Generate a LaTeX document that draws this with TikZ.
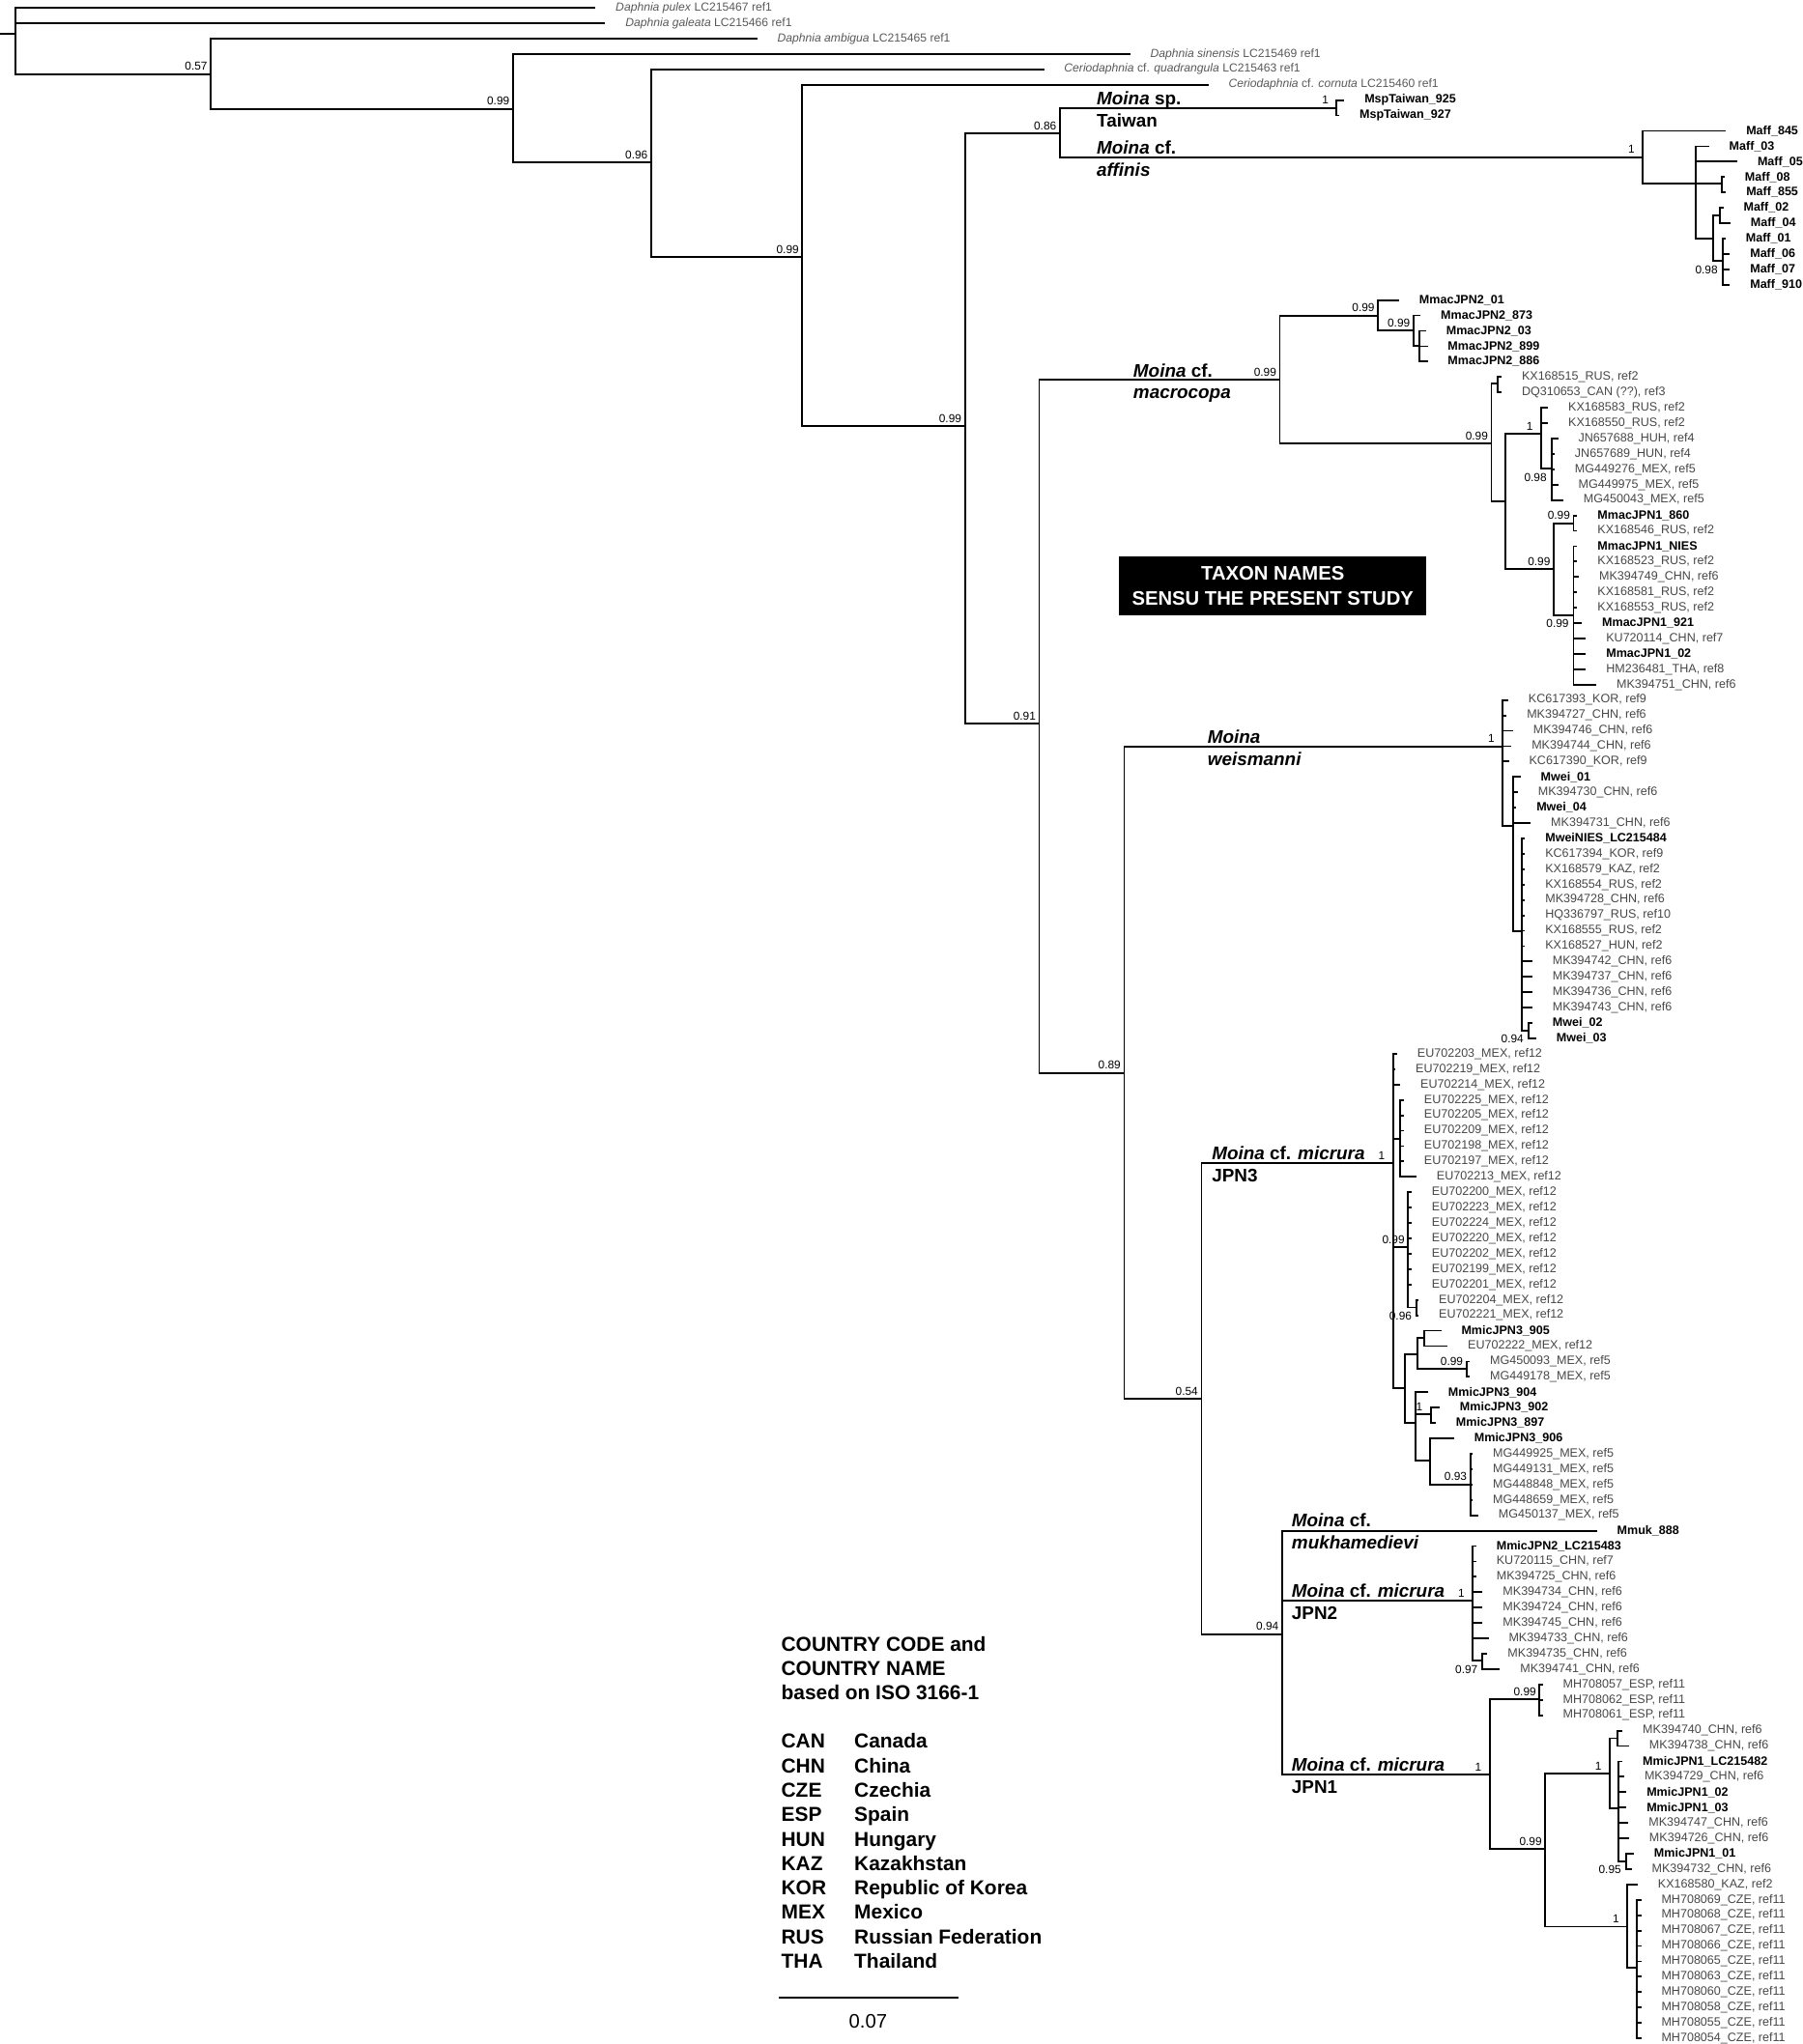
\documentclass[tikz,border=0pt]{standalone}
\usepackage{fontspec}
\setmainfont{Liberation Sans}
\usepackage{tikz}
\usetikzlibrary{positioning}
\tikzstyle{br} = [line width=1.35pt, line cap=rect]
\tikzstyle{outg} = [font=\fontsize{9}{11}\selectfont, text=black!65, inner sep=0pt, anchor=west]
\tikzstyle{ref} = [font=\fontsize{9.3}{11}\selectfont, text=black!72, inner sep=0pt, anchor=west]
\tikzstyle{own} = [font=\fontsize{9.3}{11}\selectfont\bfseries, inner sep=0pt, anchor=west]
\tikzstyle{pp} = [font=\fontsize{8.8}{10}\selectfont, inner sep=2.5pt, anchor=south east]
\tikzstyle{pp1} = [pp, xshift=-3.5pt]
\tikzstyle{ppb} = [font=\fontsize{8.8}{10}\selectfont, inner sep=3.5pt, anchor=north east]
\tikzstyle{clade} = [font=\fontsize{14}{16}\selectfont\bfseries, inner sep=0pt, anchor=base west]
\tikzstyle{legend} = [font=\fontsize{15.5}{18}\selectfont\bfseries, inner sep=0pt, anchor=base west]

\newcommand{\leaf}[5]{%
  \coordinate (#1) at (#3,{6+11.8*#2});
  \node[#4] (#1t) at ([xshift=16pt]#1) {#5};}
\newcommand{\kids}[2]{\foreach \kid in {#2} {\draw[br] (#1) |- (\kid);}}
\newcommand{\rows}[3]{\foreach \ri in {#2,...,#3} {\draw[br] (#1) |- (r\ri);}}

\begin{document}
\begin{tikzpicture}[x=1pt,y=-1pt]
\useasboundingbox (0,0) rectangle (1382,1568);
\coordinate (base) at (0,25.9);
\coordinate (root) at (12.1,25.9);
\coordinate (n057) at (161.7,56.8);
\coordinate (n099a) at (393.4,83.5);
\coordinate (n096) at (499.4,124.7);
\coordinate (n099b) at (615.3,197);
\coordinate (n099c) at (740,327);
\coordinate (n086) at (812.8,102.5);
\coordinate (nMsp) at (1025,82.7);
\coordinate (nMaff) at (1259.7,120.5);
\coordinate (nMA) at (1300.5,140.8);
\coordinate (nM08) at (1320.3,140.8);
\coordinate (nMB) at (1314.1,182.8);
\coordinate (nM02) at (1319,165.5);
\coordinate (nM098) at (1321,200.1);
\coordinate (n091) at (797,555);
\coordinate (nMmac) at (981.5,291.5);
\coordinate (nJ2a) at (1056.8,242.1);
\coordinate (nJ2b) at (1084,253.7);
\coordinate (nJ2c) at (1088.8,265);
\coordinate (nMm1) at (1143.8,340.1);
\coordinate (nMm1a) at (1148.7,294);
\coordinate (nMm1b) at (1154.5,384.8);
\coordinate (n1c) at (1181.8,332.5);
\coordinate (n098) at (1189.8,359.2);
\coordinate (n099d) at (1191.6,436.7);
\coordinate (n099e) at (1206.8,401.4);
\coordinate (n099f) at (1206.8,471.8);
\coordinate (n089) at (862.1,823);
\coordinate (nMwei) at (1152.3,572.5);
\coordinate (nMweiA) at (1160.5,633.6);
\coordinate (nMweiB) at (1167.1,714.6);
\coordinate (nMwei023) at (1172.1,790.4);
\coordinate (n054) at (921.4,1073.2);
\coordinate (nJPN3) at (1068.3,892.4);
\coordinate (nEUa) at (1074,873.7);
\coordinate (nEUb) at (1079.9,956.7);
\coordinate (nEU96) at (1086.3,1002.9);
\coordinate (nJ3a) at (1077.4,1064.6);
\coordinate (nJ3b) at (1087.3,1038.7);
\coordinate (nJ3c) at (1092.3,1026.3);
\coordinate (nJ3d) at (1124.6,1050.3);
\coordinate (nJ3e) at (1085.6,1091.8);
\coordinate (nJ3f) at (1097.2,1085.1);
\coordinate (nJ3g) at (1096.7,1120.7);
\coordinate (nJ393) at (1127.6,1138.7);
\coordinate (n094) at (983.3,1253.6);
\coordinate (nJPN2) at (1129.4,1227.6);
\coordinate (nJ297) at (1136.9,1274.1);
\coordinate (nJPN1) at (1142.4,1361.5);
\coordinate (nESP) at (1180.7,1303.7);
\coordinate (n099g) at (1185.1,1418.3);
\coordinate (nJ1a) at (1234.5,1360.3);
\coordinate (nJ1b) at (1240.5,1333.4);
\coordinate (nJ1c) at (1241.2,1387);
\coordinate (nJ195) at (1246.9,1427.7);
\coordinate (nJ1d) at (1247.9,1477.9);
\coordinate (nCZE) at (1255.3,1509.2);

\leaf{r0}{0}{456}{outg}{\textit{Daphnia pulex} LC215467 ref1}
\leaf{r1}{1}{463.5}{outg}{\textit{Daphnia galeata} LC215466 ref1}
\leaf{r2}{2}{580}{outg}{\textit{Daphnia ambigua} LC215465 ref1}
\leaf{r3}{3}{866}{outg}{\textit{Daphnia sinensis} LC215469 ref1}
\leaf{r4}{4}{800}{outg}{\textit{Ceriodaphnia} cf. \textit{quadrangula} LC215463 ref1}
\leaf{r5}{5}{926}{outg}{\textit{Ceriodaphnia} cf. \textit{cornuta} LC215460 ref1}
\leaf{r6}{6}{1030.3}{own}{MspTaiwan\_925}
\leaf{r7}{7}{1026.5}{own}{MspTaiwan\_927}
\leaf{r8}{8}{1323}{own}{Maff\_845}
\leaf{r9}{9}{1310}{own}{Maff\_03}
\leaf{r10}{10}{1331.7}{own}{Maff\_05}
\leaf{r11}{11}{1322}{own}{Maff\_08}
\leaf{r12}{12}{1323}{own}{Maff\_855}
\leaf{r13}{13}{1321}{own}{Maff\_02}
\leaf{r14}{14}{1326.4}{own}{Maff\_04}
\leaf{r15}{15}{1322.7}{own}{Maff\_01}
\leaf{r16}{16}{1326}{own}{Maff\_06}
\leaf{r17}{17}{1326}{own}{Maff\_07}
\leaf{r18}{18}{1326}{own}{Maff\_910}
\leaf{r19}{19}{1072.3}{own}{MmacJPN2\_01}
\leaf{r20}{20}{1088.8}{own}{MmacJPN2\_873}
\leaf{r21}{21}{1093}{own}{MmacJPN2\_03}
\leaf{r22}{22}{1094.2}{own}{MmacJPN2\_899}
\leaf{r23}{23}{1094.2}{own}{MmacJPN2\_886}
\leaf{r24}{24}{1150.9}{ref}{KX168515\_RUS, ref2}
\leaf{r25}{25}{1150.9}{ref}{DQ310653\_CAN (??), ref3}
\leaf{r26}{26}{1186.6}{ref}{KX168583\_RUS, ref2}
\leaf{r27}{27}{1186.6}{ref}{KX168550\_RUS, ref2}
\leaf{r28}{28}{1194.3}{ref}{JN657688\_HUH, ref4}
\leaf{r29}{29}{1191.6}{ref}{JN657689\_HUN, ref4}
\leaf{r30}{30}{1191.6}{ref}{MG449276\_MEX, ref5}
\leaf{r31}{31}{1194.3}{ref}{MG449975\_MEX, ref5}
\leaf{r32}{32}{1198.3}{ref}{MG450043\_MEX, ref5}
\leaf{r33}{33}{1209}{own}{MmacJPN1\_860}
\leaf{r34}{34}{1209}{ref}{KX168546\_RUS, ref2}
\leaf{r35}{35}{1209}{own}{MmacJPN1\_NIES}
\leaf{r36}{36}{1209}{ref}{KX168523\_RUS, ref2}
\leaf{r37}{37}{1210.3}{ref}{MK394749\_CHN, ref6}
\leaf{r38}{38}{1209}{ref}{KX168581\_RUS, ref2}
\leaf{r39}{39}{1209}{ref}{KX168553\_RUS, ref2}
\leaf{r40}{40}{1212.5}{own}{MmacJPN1\_921}
\leaf{r41}{41}{1215.6}{ref}{KU720114\_CHN, ref7}
\leaf{r42}{42}{1215.6}{own}{MmacJPN1\_02}
\leaf{r43}{43}{1215.6}{ref}{HM236481\_THA, ref8}
\leaf{r44}{44}{1223.6}{ref}{MK394751\_CHN, ref6}
\leaf{r45}{45}{1156}{ref}{KC617393\_KOR, ref9}
\leaf{r46}{46}{1154.8}{ref}{MK394727\_CHN, ref6}
\leaf{r47}{47}{1159.7}{ref}{MK394746\_CHN, ref6}
\leaf{r48}{48}{1158.5}{ref}{MK394744\_CHN, ref6}
\leaf{r49}{49}{1156.5}{ref}{KC617390\_KOR, ref9}
\leaf{r50}{50}{1165.4}{own}{Mwei\_01}
\leaf{r51}{51}{1163.4}{ref}{MK394730\_CHN, ref6}
\leaf{r52}{52}{1162.2}{own}{Mwei\_04}
\leaf{r53}{53}{1173.3}{ref}{MK394731\_CHN, ref6}
\leaf{r54}{54}{1168.9}{own}{MweiNIES\_LC215484}
\leaf{r55}{55}{1168.9}{ref}{KC617394\_KOR, ref9}
\leaf{r56}{56}{1168.9}{ref}{KX168579\_KAZ, ref2}
\leaf{r57}{57}{1168.9}{ref}{KX168554\_RUS, ref2}
\leaf{r58}{58}{1168.9}{ref}{MK394728\_CHN, ref6}
\leaf{r59}{59}{1168.9}{ref}{HQ336797\_RUS, ref10}
\leaf{r60}{60}{1168.9}{ref}{KX168555\_RUS, ref2}
\leaf{r61}{61}{1168.9}{ref}{KX168527\_HUN, ref2}
\leaf{r62}{62}{1174.5}{ref}{MK394742\_CHN, ref6}
\leaf{r63}{63}{1174.5}{ref}{MK394737\_CHN, ref6}
\leaf{r64}{64}{1174.5}{ref}{MK394736\_CHN, ref6}
\leaf{r65}{65}{1174.5}{ref}{MK394743\_CHN, ref6}
\leaf{r66}{66}{1174.5}{own}{Mwei\_02}
\leaf{r67}{67}{1177.5}{own}{Mwei\_03}
\leaf{r68}{68}{1070.8}{ref}{EU702203\_MEX, ref12}
\leaf{r69}{69}{1069.5}{ref}{EU702219\_MEX, ref12}
\leaf{r70}{70}{1073.2}{ref}{EU702214\_MEX, ref12}
\leaf{r71}{71}{1076}{ref}{EU702225\_MEX, ref12}
\leaf{r72}{72}{1076}{ref}{EU702205\_MEX, ref12}
\leaf{r73}{73}{1076}{ref}{EU702209\_MEX, ref12}
\leaf{r74}{74}{1076}{ref}{EU702198\_MEX, ref12}
\leaf{r75}{75}{1076}{ref}{EU702197\_MEX, ref12}
\leaf{r76}{76}{1085.6}{ref}{EU702213\_MEX, ref12}
\leaf{r77}{77}{1081.9}{ref}{EU702200\_MEX, ref12}
\leaf{r78}{78}{1081.9}{ref}{EU702223\_MEX, ref12}
\leaf{r79}{79}{1081.9}{ref}{EU702224\_MEX, ref12}
\leaf{r80}{80}{1081.9}{ref}{EU702220\_MEX, ref12}
\leaf{r81}{81}{1081.9}{ref}{EU702202\_MEX, ref12}
\leaf{r82}{82}{1081.9}{ref}{EU702199\_MEX, ref12}
\leaf{r83}{83}{1081.9}{ref}{EU702201\_MEX, ref12}
\leaf{r84}{84}{1087.3}{ref}{EU702204\_MEX, ref12}
\leaf{r85}{85}{1087.3}{ref}{EU702221\_MEX, ref12}
\leaf{r86}{86}{1104.6}{own}{MmicJPN3\_905}
\leaf{r87}{87}{1109.5}{ref}{EU702222\_MEX, ref12}
\leaf{r88}{88}{1126.5}{ref}{MG450093\_MEX, ref5}
\leaf{r89}{89}{1126.5}{ref}{MG449178\_MEX, ref5}
\leaf{r90}{90}{1094.5}{own}{MmicJPN3\_904}
\leaf{r91}{91}{1103.4}{own}{MmicJPN3\_902}
\leaf{r92}{92}{1100.5}{own}{MmicJPN3\_897}
\leaf{r93}{93}{1114.5}{own}{MmicJPN3\_906}
\leaf{r94}{94}{1128.8}{ref}{MG449925\_MEX, ref5}
\leaf{r95}{95}{1128.8}{ref}{MG449131\_MEX, ref5}
\leaf{r96}{96}{1128.8}{ref}{MG448848\_MEX, ref5}
\leaf{r97}{97}{1128.8}{ref}{MG448659\_MEX, ref5}
\leaf{r98}{98}{1133}{ref}{MG450137\_MEX, ref5}
\leaf{r99}{99}{1224}{own}{Mmuk\_888}
\leaf{r100}{100}{1131.5}{own}{MmicJPN2\_LC215483}
\leaf{r101}{101}{1131.5}{ref}{KU720115\_CHN, ref7}
\leaf{r102}{102}{1131.5}{ref}{MK394725\_CHN, ref6}
\leaf{r103}{103}{1136.4}{ref}{MK394734\_CHN, ref6}
\leaf{r104}{104}{1136.4}{ref}{MK394724\_CHN, ref6}
\leaf{r105}{105}{1136.4}{ref}{MK394745\_CHN, ref6}
\leaf{r106}{106}{1140.9}{ref}{MK394733\_CHN, ref6}
\leaf{r107}{107}{1140.1}{ref}{MK394735\_CHN, ref6}
\leaf{r108}{108}{1149.7}{ref}{MK394741\_CHN, ref6}
\leaf{r109}{109}{1182.5}{ref}{MH708057\_ESP, ref11}
\leaf{r110}{110}{1182.5}{ref}{MH708062\_ESP, ref11}
\leaf{r111}{111}{1182.5}{ref}{MH708061\_ESP, ref11}
\leaf{r112}{112}{1243.7}{ref}{MK394740\_CHN, ref6}
\leaf{r113}{113}{1248.7}{ref}{MK394738\_CHN, ref6}
\leaf{r114}{114}{1243.7}{own}{MmicJPN1\_LC215482}
\leaf{r115}{115}{1245}{ref}{MK394729\_CHN, ref6}
\leaf{r116}{116}{1246.7}{own}{MmicJPN1\_02}
\leaf{r117}{117}{1246.7}{own}{MmicJPN1\_03}
\leaf{r118}{118}{1248.2}{ref}{MK394747\_CHN, ref6}
\leaf{r119}{119}{1248.7}{ref}{MK394726\_CHN, ref6}
\leaf{r120}{120}{1252.4}{own}{MmicJPN1\_01}
\leaf{r121}{121}{1250.6}{ref}{MK394732\_CHN, ref6}
\leaf{r122}{122}{1255.3}{ref}{KX168580\_KAZ, ref2}
\leaf{r123}{123}{1258}{ref}{MH708069\_CZE, ref11}
\leaf{r124}{124}{1258}{ref}{MH708068\_CZE, ref11}
\leaf{r125}{125}{1258}{ref}{MH708067\_CZE, ref11}
\leaf{r126}{126}{1258}{ref}{MH708066\_CZE, ref11}
\leaf{r127}{127}{1258}{ref}{MH708065\_CZE, ref11}
\leaf{r128}{128}{1258}{ref}{MH708063\_CZE, ref11}
\leaf{r129}{129}{1258}{ref}{MH708060\_CZE, ref11}
\leaf{r130}{130}{1258}{ref}{MH708058\_CZE, ref11}
\leaf{r131}{131}{1258}{ref}{MH708055\_CZE, ref11}
\leaf{r132}{132}{1258}{ref}{MH708054\_CZE, ref11}

\draw[br] (base) -- (root);
\kids{root}{r0,r1,n057}
\kids{n057}{r2,n099a}
\kids{n099a}{r3,n096}
\kids{n096}{r4,n099b}
\kids{n099b}{r5,n099c}
\kids{n099c}{n086,n091}
\kids{n086}{nMsp,nMaff}
\kids{nMsp}{r6,r7}
\kids{nMaff}{r8,nMA}
\kids{nMA}{r9,r10,nM08,nMB}
\kids{nM08}{r11,r12}
\kids{nMB}{nM02,nM098}
\kids{nM02}{r13,r14}
\rows{nM098}{15}{18}
\kids{n091}{nMmac,n089}
\kids{nMmac}{nJ2a,nMm1}
\kids{nJ2a}{r19,nJ2b}
\kids{nJ2b}{r20,nJ2c}
\rows{nJ2c}{21}{23}
\kids{nMm1}{nMm1a,nMm1b}
\kids{nMm1a}{r24,r25}
\kids{nMm1b}{n1c,n099d}
\kids{n1c}{r26,r27,n098}
\rows{n098}{28}{32}
\kids{n099d}{n099e,n099f}
\kids{n099e}{r33,r34}
\rows{n099f}{35}{44}
\kids{n089}{nMwei,n054}
\rows{nMwei}{45}{49}
\kids{nMwei}{nMweiA}
\rows{nMweiA}{50}{53}
\kids{nMweiA}{nMweiB}
\rows{nMweiB}{54}{65}
\kids{nMweiB}{nMwei023}
\rows{nMwei023}{66}{67}
\kids{n054}{nJPN3,n094}
\rows{nJPN3}{68}{70}
\kids{nJPN3}{nEUa,nEUb,nJ3a}
\rows{nEUa}{71}{76}
\rows{nEUb}{77}{83}
\kids{nEUb}{nEU96}
\rows{nEU96}{84}{85}
\kids{nJ3a}{nJ3b,nJ3e}
\kids{nJ3b}{nJ3c,nJ3d}
\rows{nJ3c}{86}{87}
\rows{nJ3d}{88}{89}
\kids{nJ3e}{r90,nJ3f,nJ3g}
\rows{nJ3f}{91}{92}
\kids{nJ3g}{r93,nJ393}
\rows{nJ393}{94}{98}
\kids{n094}{r99,nJPN2,nJPN1}
\rows{nJPN2}{100}{106}
\kids{nJPN2}{nJ297}
\rows{nJ297}{107}{108}
\kids{nJPN1}{nESP,n099g}
\rows{nESP}{109}{111}
\kids{n099g}{nJ1a,nJ1d}
\kids{nJ1a}{nJ1b,nJ1c}
\rows{nJ1b}{112}{113}
\rows{nJ1c}{114}{119}
\kids{nJ1c}{nJ195}
\rows{nJ195}{120}{121}
\kids{nJ1d}{r122,nCZE}
\rows{nCZE}{123}{132}

\node[pp] (b057) at (n057) {0.57};
\node[pp] (b099a) at (n099a) {0.99};
\node[pp] (b096) at (n096) {0.96};
\node[pp] (b099b) at (n099b) {0.99};
\node[pp] (b099c) at (n099c) {0.99};
\node[pp] (b086) at (n086) {0.86};
\node[pp1] (bMsp) at (nMsp) {1};
\node[pp1] (bMaff) at (nMaff) {1};
\node[ppb] (bM098) at (nM098) {0.98};
\node[pp] (b091) at (n091) {0.91};
\node[pp] (bMmac) at (nMmac) {0.99};
\node[pp] (bJ2a) at (nJ2a) {0.99};
\node[pp] (bJ2b) at (nJ2b) {0.99};
\node[pp] (bMm1) at (nMm1) {0.99};
\node[pp1] (b1c) at (n1c) {1};
\node[ppb] (b098) at (n098) {0.98};
\node[pp] (b099d) at (n099d) {0.99};
\node[pp] (b099e) at (n099e) {0.99};
\node[ppb] (b099f) at (n099f) {0.99};
\node[pp] (b089) at (n089) {0.89};
\node[pp1] (bMwei) at (nMwei) {1};
\node[ppb] (bMwei023) at (nMwei023) {0.94};
\node[pp] (b054) at (n054) {0.54};
\node[pp1] (bJPN3) at (nJPN3) {1};
\node[pp] (bEUb) at (nEUb) {0.99};
\node[ppb] (bEU96) at (nEU96) {0.96};
\node[pp] (bJ3d) at (nJ3d) {0.99};
\node[pp1] (bJ3f) at (nJ3f) {1};
\node[pp] (bJ393) at (nJ393) {0.93};
\node[pp] (b094) at (n094) {0.94};
\node[pp1] (bJPN2) at (nJPN2) {1};
\node[ppb] (bJ297) at (nJ297) {0.97};
\node[pp1] (bJPN1) at (nJPN1) {1};
\node[pp] (bESP) at (nESP) {0.99};
\node[pp] (b099g) at (n099g) {0.99};
\node[pp1] (bJ1a) at (nJ1a) {1};
\node[ppb] (bJ195) at (nJ195) {0.95};
\node[pp1] (bJ1d) at (nJ1d) {1};

\node[clade] (cTw1) at (841,80.2) {\textit{Moina} sp.};
\node[clade] (cTw2) at (841,97.2) {Taiwan};
\node[clade] (cAf1) at (841,118) {\textit{Moina} cf.};
\node[clade] (cAf2) at (841,135) {\textit{affinis}};
\node[clade] (cMm1) at (869,289) {\textit{Moina} cf.};
\node[clade] (cMm2) at (869,306) {\textit{macrocopa}};
\node[clade] (cMw1) at (926,570) {\textit{Moina}};
\node[clade] (cMw2) at (926,587) {\textit{weismanni}};
\node[clade] (cJ31) at (929.3,889.9) {\textit{Moina} cf. \textit{micrura}};
\node[clade] (cJ32) at (929.3,906.9) {JPN3};
\node[clade] (cMk1) at (990.5,1171.3) {\textit{Moina} cf.};
\node[clade] (cMk2) at (990.5,1188.3) {\textit{mukhamedievi}};
\node[clade] (cJ21) at (990.5,1225.1) {\textit{Moina} cf. \textit{micrura}};
\node[clade] (cJ22) at (990.5,1242.1) {JPN2};
\node[clade] (cJ11) at (990.5,1359) {\textit{Moina} cf. \textit{micrura}};
\node[clade] (cJ12) at (990.5,1376) {JPN1};

\node[fill=black, text=white, font=\fontsize{15}{19}\selectfont\bfseries, align=center,
  minimum width=236pt, minimum height=45.5pt, inner sep=0pt] (taxon) at (976.1,449.5)
  {TAXON NAMES\\SENSU THE PRESENT STUDY};

\node[legend] (lg1) at (599,1266.4) {COUNTRY CODE and};
\node[legend] (lg2) at (599,1285) {COUNTRY NAME};
\node[legend] (lg3) at (599,1304) {based on ISO 3166-1};
\foreach \code/\cname [count=\i from 0] in {CAN/Canada, CHN/China, CZE/Czechia, ESP/Spain,
    HUN/Hungary, KAZ/Kazakhstan, KOR/Republic of Korea, MEX/Mexico,
    RUS/Russian Federation, THA/Thailand} {
  \node[legend] (cc\i) at (599,{1341.2+18.73*\i}) {\code};
  \node[legend] (cn\i) at (655,{1341.2+18.73*\i}) {\cname};
}

\coordinate (sbl) at (597.3,1532.2);
\coordinate (sbr) at (734.9,1532.2);
\draw[line width=1.35pt] (sbl) -- (sbr);
\node[font=\fontsize{15}{18}\selectfont] (sbt) at (665.7,1550.7) {0.07};
\end{tikzpicture}
\end{document}
